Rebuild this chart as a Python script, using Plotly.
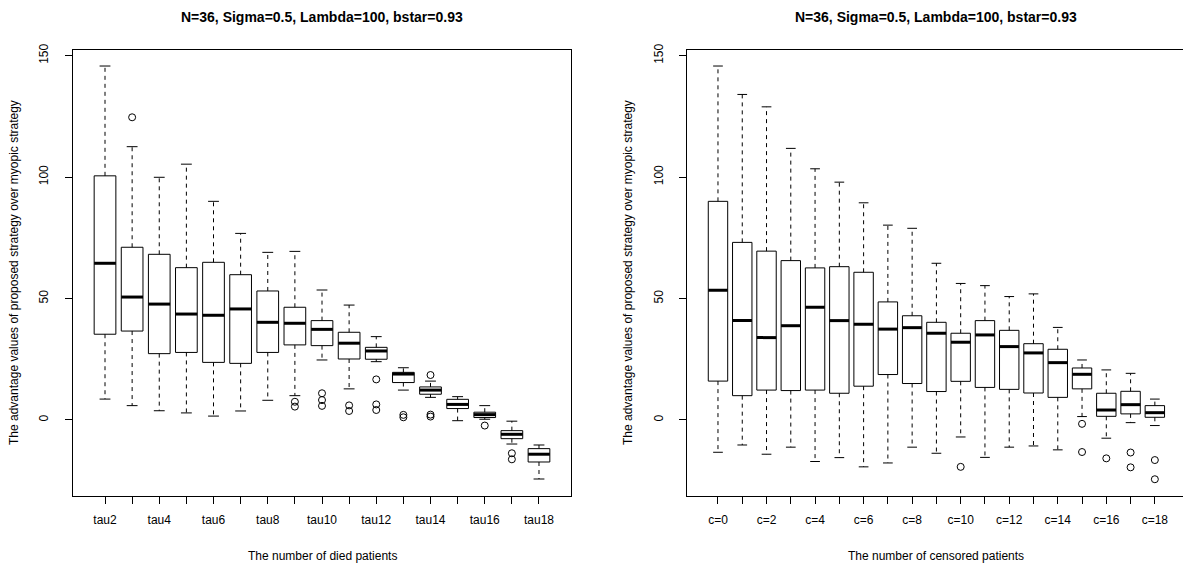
import plotly.graph_objects as go

FONT = "Liberation Sans, Arial, Helvetica, sans-serif"
TITLE = "N=36, Sigma=0.5, Lambda=100, bstar=0.93"

# ---------------- left panel: died patients ----------------
tau_labels = ["tau2", "tau3", "tau4", "tau5", "tau6", "tau7", "tau8", "tau9", "tau10",
              "tau11", "tau12", "tau13", "tau14", "tau15", "tau16", "tau17", "tau18"]
tau_upper = [145.7, 112.5, 99.9, 105.3, 90.0, 76.8, 69.0, 69.4, 53.5, 47.3, 34.3, 21.5, 16.0, 9.6, 5.9, -0.5, -10.3]
tau_q3 = [100.5, 71.1, 68.2, 62.7, 64.9, 59.8, 53.1, 46.4, 40.9, 36.1, 29.9, 19.6, 13.6, 8.5, 3.2, -4.4, -11.8]
tau_med = [64.5, 50.6, 47.7, 43.6, 43.1, 45.7, 40.2, 39.8, 37.3, 31.6, 28.4, 18.9, 12.3, 6.4, 2.2, -5.9, -14.1]
tau_q1 = [35.3, 36.6, 27.3, 27.8, 23.7, 23.3, 27.8, 30.9, 30.6, 25.1, 25.0, 15.4, 10.6, 4.7, 1.0, -7.7, -17.3]
tau_lower = [8.6, 5.9, 3.8, 2.9, 1.6, 3.7, 8.1, 10.0, 24.7, 12.8, 24.0, 12.3, 9.3, -0.3, 0.3, -9.9, -24.3]
tau_out = [[], [124.6], [], [], [], [], [], [7.5, 5.5], [11.0, 8.2, 5.8], [6.0, 3.7],
           [16.7, 6.4, 4.1], [2.1, 1.1], [18.5, 2.2, 1.4], [], [-2.3], [-13.7, -16.2], []]

# ---------------- right panel: censored patients ----------------
c_labels = ["c=0", "c=1", "c=2", "c=3", "c=4", "c=5", "c=6", "c=7", "c=8", "c=9",
            "c=10", "c=11", "c=12", "c=13", "c=14", "c=15", "c=16", "c=17", "c=18"]
c_upper = [145.7, 134.0, 128.9, 111.8, 103.4, 97.9, 89.4, 80.2, 78.9, 64.5, 56.2, 55.3, 50.8, 51.9, 38.1, 24.7, 20.6, 19.2, 8.6]
c_q3 = [90.0, 73.1, 69.5, 65.6, 62.6, 63.1, 60.8, 48.6, 42.9, 40.2, 35.7, 40.9, 36.9, 31.4, 29.1, 21.4, 11.0, 11.8, 5.9]
c_med = [53.4, 40.9, 33.9, 38.8, 46.4, 40.9, 39.4, 37.4, 38.0, 35.7, 32.0, 35.0, 30.2, 27.6, 23.6, 18.8, 4.1, 6.3, 3.0]
c_q1 = [16.0, 10.0, 12.3, 12.1, 12.3, 11.0, 13.9, 18.7, 15.0, 11.7, 15.9, 13.4, 12.6, 11.1, 9.3, 12.8, 1.5, 2.5, 1.1]
c_lower = [-13.3, -10.3, -14.1, -11.2, -17.1, -15.5, -19.3, -17.7, -11.2, -13.7, -7.0, -15.4, -11.2, -10.7, -12.3, 1.4, -7.5, -1.1, -2.3]
c_out = [[], [], [], [], [], [], [], [], [], [], [-19.3], [], [], [], [],
         [-1.6, -13.2], [-15.8], [-13.4, -19.5], [-16.5, -24.4]]

y_ticks = [0, 50, 100, 150]
BOXW = 0.8
CAPW = 0.4

fig = go.Figure()


def add_panel(labels, upper, q3, med, q1, lower, outs, xa, ya):
    pos = list(range(1, len(labels) + 1))
    wx, wy, cx, cy, bx, by, mx, my, ox, oy = [], [], [], [], [], [], [], [], [], []
    for p, u, t, m, b, l, o in zip(pos, upper, q3, med, q1, lower, outs):
        wx += [p, p, None, p, p, None]
        wy += [t, u, None, b, l, None]
        cx += [p - CAPW / 2, p + CAPW / 2, None, p - CAPW / 2, p + CAPW / 2, None]
        cy += [u, u, None, l, l, None]
        bx += [p - BOXW / 2, p + BOXW / 2, p + BOXW / 2, p - BOXW / 2, p - BOXW / 2, None]
        by += [b, b, t, t, b, None]
        mx += [p - BOXW / 2, p + BOXW / 2, None]
        my += [m, m, None]
        ox += [p] * len(o)
        oy += list(o)
    common = dict(xaxis=xa, yaxis=ya, showlegend=False, hoverinfo="skip")
    fig.add_trace(go.Scatter(x=wx, y=wy, mode="lines",
                             line=dict(color="black", width=1, dash="4px,4px"), **common))
    fig.add_trace(go.Scatter(x=cx, y=cy, mode="lines", line=dict(color="black", width=1), **common))
    fig.add_trace(go.Scatter(x=bx, y=by, mode="lines", line=dict(color="black", width=1), **common))
    fig.add_trace(go.Scatter(x=mx, y=my, mode="lines", line=dict(color="black", width=3), **common))
    fig.add_trace(go.Scatter(x=ox, y=oy, mode="markers",
                             marker=dict(symbol="circle-open", size=7, color="black",
                                         line=dict(width=1, color="black")), **common))
    return pos


pos_l = add_panel(tau_labels, tau_upper, tau_q3, tau_med, tau_q1, tau_lower, tau_out, "x", "y")
pos_r = add_panel(c_labels, c_upper, c_q3, c_med, c_q1, c_lower, c_out, "x2", "y2")

W, H = 1183, 567
ML, MR, MT, MB = 73, 0, 50, 71
PW = W - ML - MR
PH = H - MT - MB


def px_x(p):
    return (p - ML) / PW


def px_y(p):
    return (H - MB - p) / PH


axis_font = dict(family=FONT, size=12, color="black")
xcommon = dict(ticks="outside", ticklen=7, tickcolor="black", tickwidth=1,
               showgrid=False, zeroline=False, showline=True, linecolor="black",
               linewidth=1, tickfont=axis_font, ticklabelstandoff=6)
ycommon = dict(ticks="outside", ticklen=7, tickcolor="black", tickwidth=1,
               showgrid=False, zeroline=False, showline=True, linecolor="black",
               linewidth=1, tickfont=axis_font, tickangle=-90, range=[-31.3, 152.3],
               tickvals=y_ticks, ticktext=[str(v) for v in y_ticks], ticklabelstandoff=12)

fig.update_layout(
    width=W, height=H, autosize=False,
    margin=dict(l=ML, r=MR, t=MT, b=MB, pad=0),
    paper_bgcolor="white", plot_bgcolor="white",
    xaxis=dict(domain=[0, px_x(571)], range=[-0.18, len(tau_labels) + 1.18], anchor="y",
               tickvals=pos_l, ticktext=[t if i % 2 == 0 else "" for i, t in enumerate(tau_labels)],
               mirror=True, **xcommon),
    yaxis=dict(domain=[0, 1], anchor="x", mirror=True, **ycommon),
    xaxis2=dict(domain=[px_x(687.4), 1], range=[-0.26, 20.16], anchor="y2",
                tickvals=pos_r, ticktext=[t if i % 2 == 0 else "" for i, t in enumerate(c_labels)],
                mirror=True, **xcommon),
    yaxis2=dict(domain=[0, 1], anchor="x2", mirror=False, **ycommon),
    annotations=[
        dict(text="<b>" + TITLE + "</b>", x=px_x(322), y=px_y(17), xref="paper", yref="paper",
             showarrow=False, font=dict(family=FONT, size=14, color="black"),
             xanchor="center", yanchor="middle"),
        dict(text="<b>" + TITLE + "</b>", x=px_x(936), y=px_y(17), xref="paper", yref="paper",
             showarrow=False, font=dict(family=FONT, size=14, color="black"),
             xanchor="center", yanchor="middle"),
        dict(text="The number of died patients", x=px_x(322), y=px_y(556), xref="paper",
             yref="paper", showarrow=False, font=axis_font, xanchor="center", yanchor="middle"),
        dict(text="The number of censored patients", x=px_x(936), y=px_y(556), xref="paper",
             yref="paper", showarrow=False, font=axis_font, xanchor="center", yanchor="middle"),
        dict(text="The advantage values of proposed strategy over myopic strategy",
             x=px_x(14), y=px_y(273), xref="paper", yref="paper", showarrow=False,
             textangle=-90, font=axis_font, xanchor="center", yanchor="middle"),
        dict(text="The advantage values of proposed strategy over myopic strategy",
             x=px_x(628), y=px_y(273), xref="paper", yref="paper", showarrow=False,
             textangle=-90, font=axis_font, xanchor="center", yanchor="middle"),
    ],
)

fig.write_html("out.html", config={"displayModeBar": False},
               post_script="document.body.style.margin='0';")
